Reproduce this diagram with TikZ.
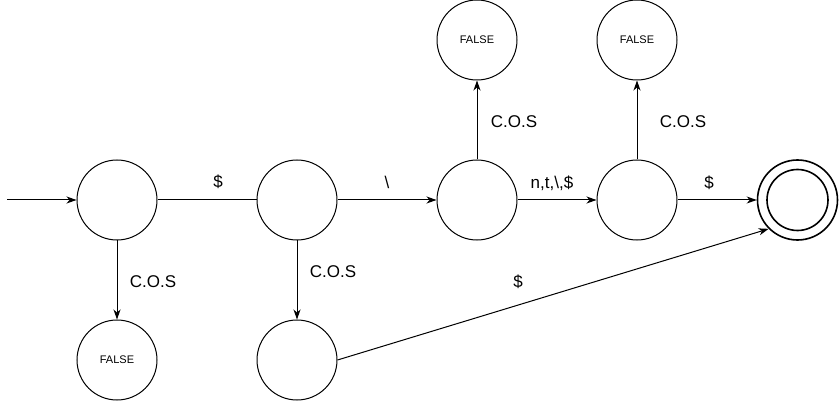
\documentclass[tikz,border=0pt]{standalone}
\usepackage{fontspec}
\setmainfont{Liberation Sans}
\usetikzlibrary{arrows.meta}
\begin{document}
\begin{tikzpicture}[x=1pt,y=-1pt,
  state/.style={circle,draw,line width=1pt,minimum size=80pt,inner sep=0pt},
  accring/.style={circle,draw,line width=1.6pt,inner sep=0pt},
  lbl/.style={font=\fontsize{17}{20}\selectfont,inner sep=0pt},
  flbl/.style={font=\fontsize{11}{13}\selectfont},
  edge/.style={line width=1pt,-{Stealth[length=10pt,width=7pt,inset=3pt]}},
  plain/.style={line width=1pt}]
\useasboundingbox (0,0) rectangle (839,401);
\node[state] (c1) at (117,200) {};
\node[state] (c2) at (297,200) {};
\node[state] (c3) at (477,200) {};
\node[state] (c4) at (637,200) {};
\node[accring,minimum size=80pt] (fin) at (797.5,200) {};
\node[accring,minimum size=61pt] (finin) at (797.5,200) {};
\node[state,flbl] (f1) at (477,40) {FALSE};
\node[state,flbl] (f2) at (637,40) {FALSE};
\node[state,flbl] (f0) at (117,360) {FALSE};
\node[state] (c5) at (297,360) {};
\coordinate (start) at (7,200);
\draw[edge] (start) -- (c1);
\draw[plain] (c1) -- (c2);
\draw[edge] (c2) -- (c3);
\draw[edge] (c3) -- (c4);
\draw[edge] (c4) -- (fin);
\draw[edge] (c1) -- (f0);
\draw[edge] (c2) -- (c5);
\draw[edge] (c3) -- (f1);
\draw[edge] (c4) -- (f2);
\draw[edge] (c5.east) -- (fin.225);
\node[lbl] (l1) at (218,182) {\$};
\node[lbl] (l2) at (387,182) {\textbackslash};
\node[lbl] (l3) at (552,183) {n,t,\textbackslash,\$};
\node[lbl] (l4) at (709,183) {\$};
\node[lbl] (l5) at (514,122) {C.O.S};
\node[lbl] (l6) at (683,122) {C.O.S};
\node[lbl] (l7) at (153,282) {C.O.S};
\node[lbl] (l8) at (333,272) {C.O.S};
\node[lbl] (l9) at (518,282) {\$};
\end{tikzpicture}
\end{document}
